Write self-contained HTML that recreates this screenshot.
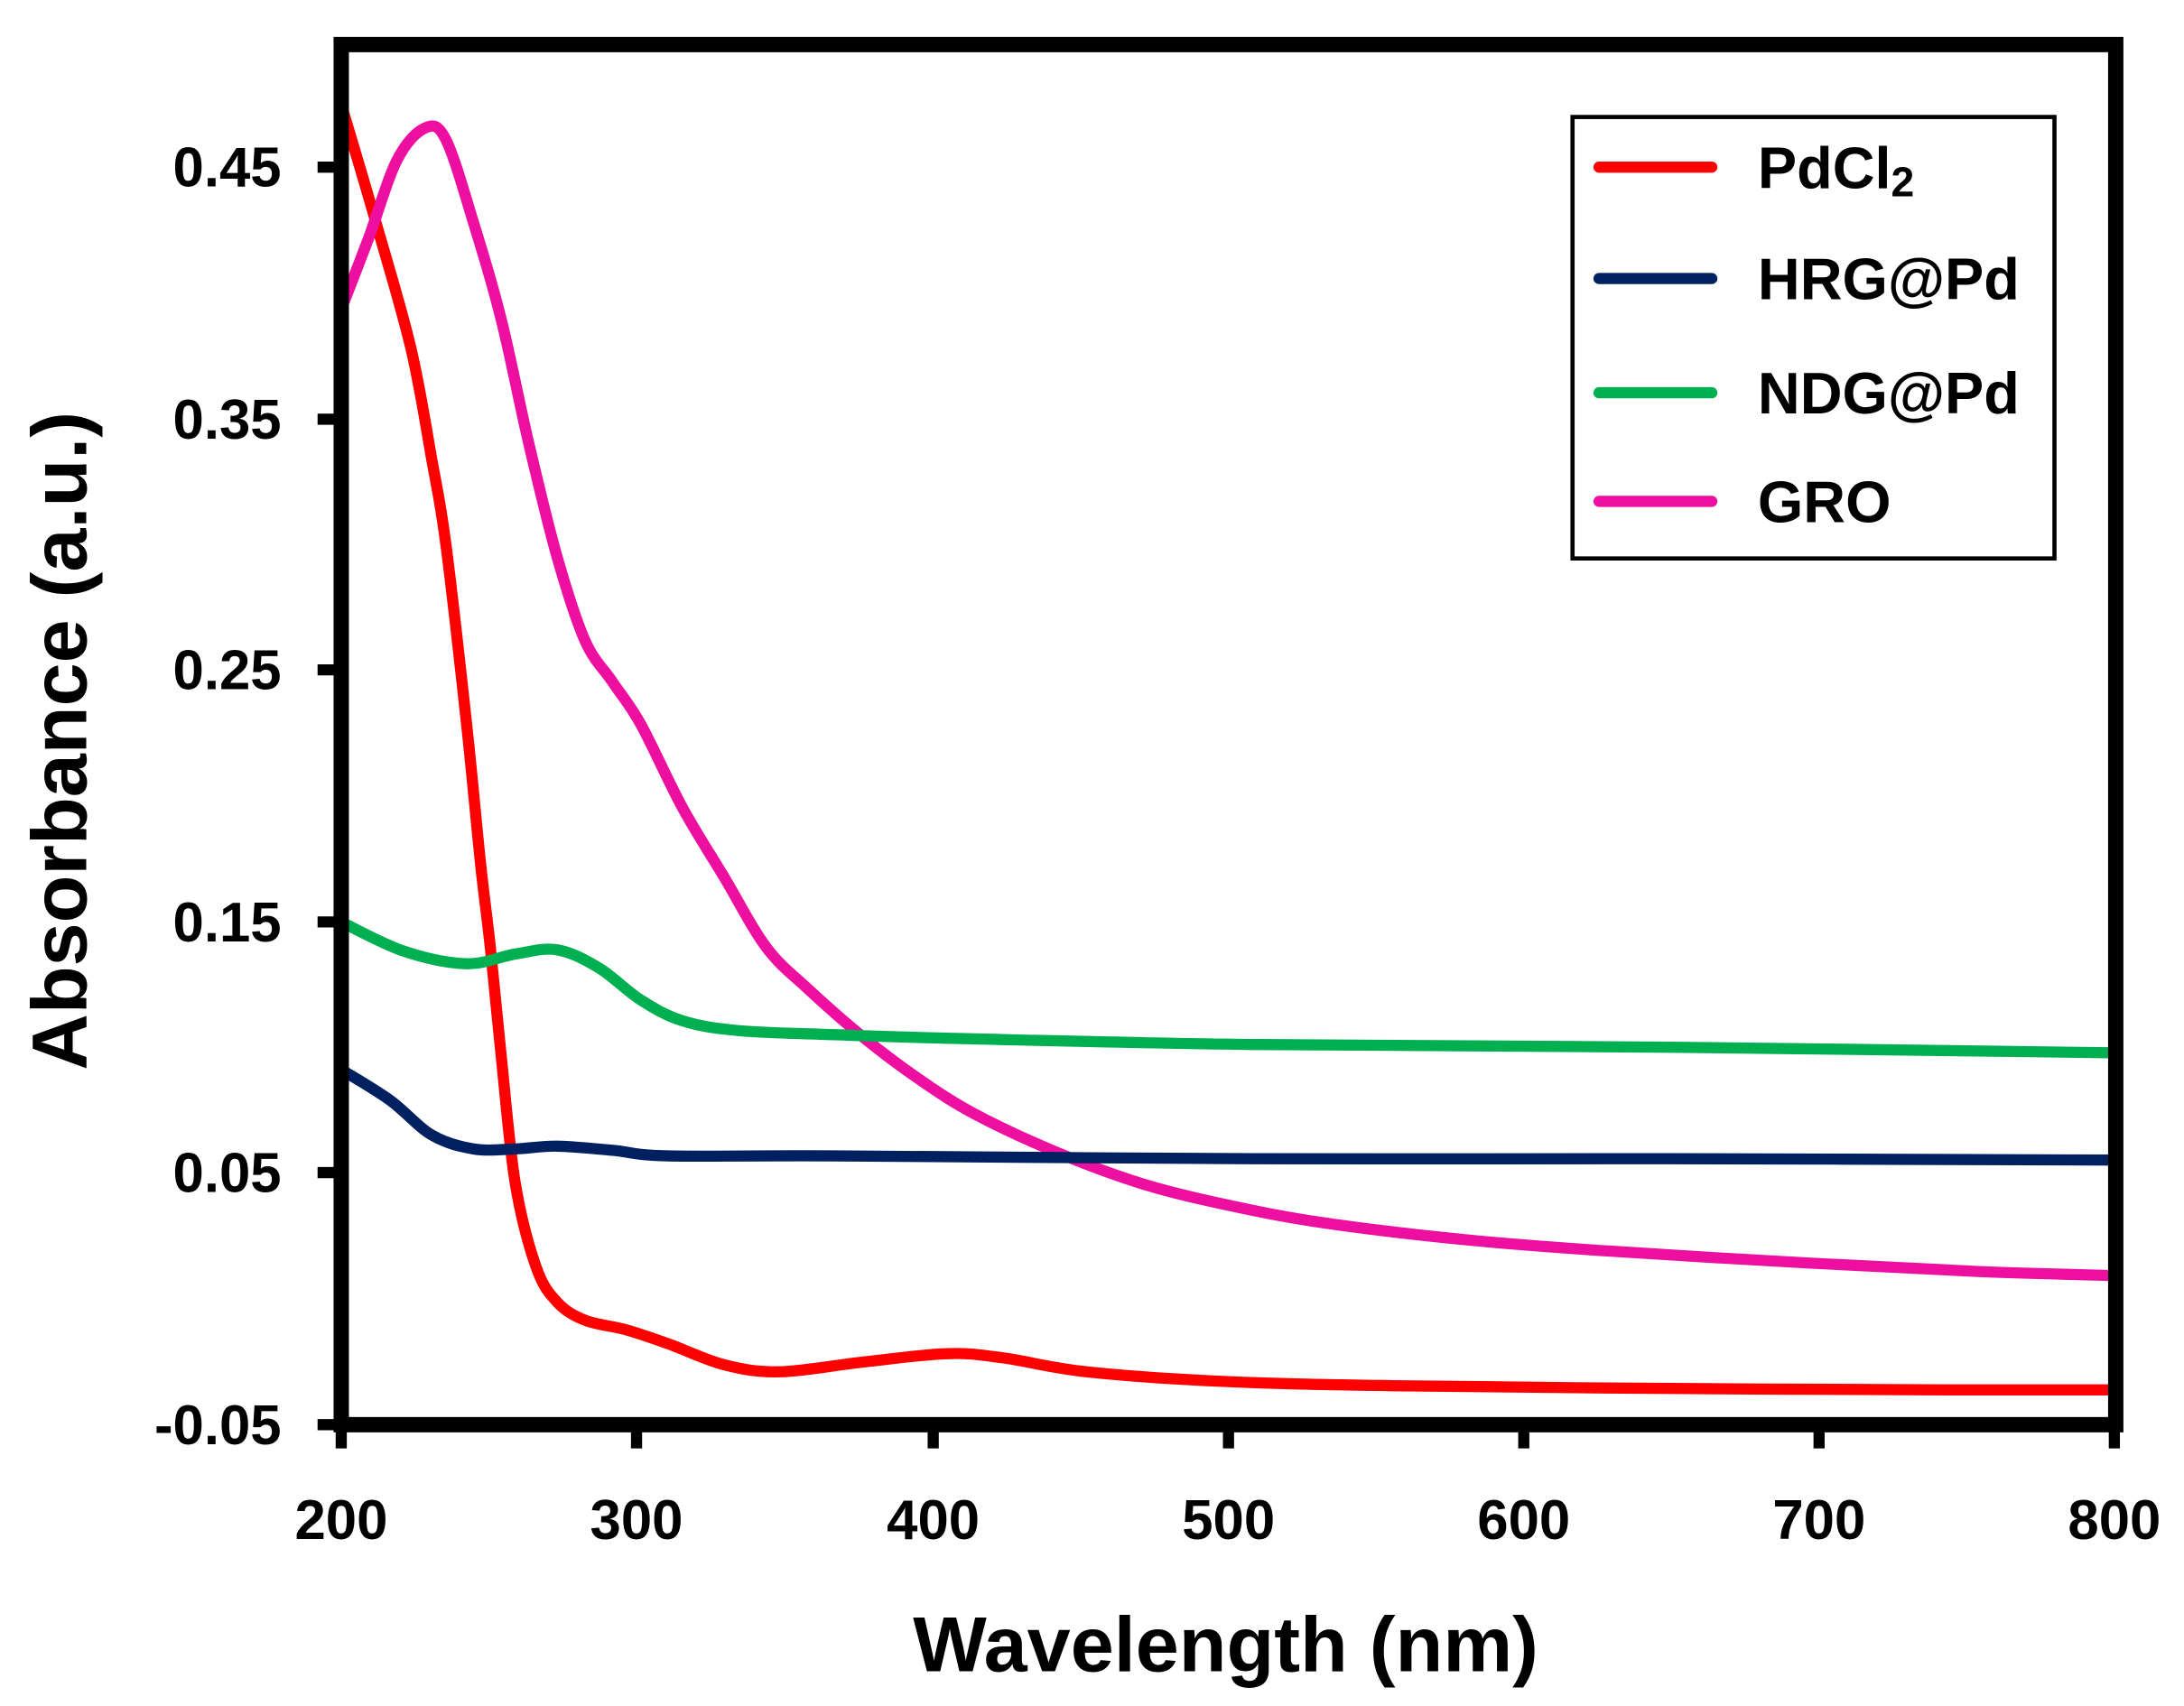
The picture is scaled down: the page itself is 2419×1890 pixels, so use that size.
<!DOCTYPE html>
<html><head><meta charset="utf-8"><style>html,body{margin:0;padding:0;background:#fff}svg{display:block}</style></head>
<body>
<svg id="s" width="2419" height="1890" viewBox="0 0 1568 1225" preserveAspectRatio="none" xmlns="http://www.w3.org/2000/svg" font-family="Liberation Sans, sans-serif" font-weight="bold">
<rect width="1568" height="1225" fill="#fff"/>
<g fill="none" stroke-linejoin="round" stroke-linecap="round" stroke-width="8">
<polyline class="c" stroke="#ff0000" points="245,75 270,160 295,250 310,330 320,390 335,520 345,620 352,680 360,760 370,850 385,910 400,935 420,948 450,955 480,965 520,980 560,985 620,978 680,972 720,975 780,985 880,992 1000,995 1200,997 1400,998 1520,998"/>
<polyline class="c" stroke="#ec0fa0" points="245,222 265,170 285,115 305,92 320,100 340,160 360,230 380,320 400,400 420,460 440,490 460,520 490,580 520,630 550,680 580,710 620,745 660,775 700,800 760,828 820,850 880,865 950,878 1050,890 1150,898 1300,907 1420,913 1520,916"/>
<polyline class="c" stroke="#00b050" points="245,662 290,683 335,692 370,685 400,682 430,695 460,718 490,733 530,740 600,743 700,746 900,750 1200,752 1520,756"/>
<polyline class="c" stroke="#002060" points="245,768 280,790 310,815 340,825 370,825 400,823 440,826 480,830 600,830 900,832 1200,832 1520,833"/>
</g>
<rect x="245" y="32" width="1274" height="991" fill="none" stroke="#000" stroke-width="11"/>
<g stroke="#000" stroke-width="8">
<line x1="228" y1="120" x2="245" y2="120"/><line x1="228" y1="301" x2="245" y2="301"/><line x1="228" y1="481" x2="245" y2="481"/><line x1="228" y1="662" x2="245" y2="662"/><line x1="228" y1="842" x2="245" y2="842"/><line x1="228" y1="1023" x2="245" y2="1023"/>
<line x1="245" y1="1023" x2="245" y2="1040"/><line x1="457" y1="1023" x2="457" y2="1040"/><line x1="670" y1="1023" x2="670" y2="1040"/><line x1="882" y1="1023" x2="882" y2="1040"/><line x1="1094" y1="1023" x2="1094" y2="1040"/><line x1="1306" y1="1023" x2="1306" y2="1040"/><line x1="1518" y1="1023" x2="1518" y2="1040"/>
</g>
<g font-size="40" text-anchor="end" fill="#000">
<text x="202" y="134">0.45</text><text x="202" y="315">0.35</text><text x="202" y="495">0.25</text><text x="202" y="676">0.15</text><text x="202" y="856">0.05</text><text x="202" y="1037">-0.05</text>
</g>
<g font-size="40" text-anchor="middle" fill="#000">
<text x="245" y="1105">200</text><text x="457" y="1105">300</text><text x="670" y="1105">400</text><text x="882" y="1105">500</text><text x="1094" y="1105">600</text><text x="1306" y="1105">700</text><text x="1518" y="1105">800</text>
</g>
<text x="880" y="1200" font-size="56" text-anchor="middle">Wavelength (nm)</text>
<text transform="translate(62,532) rotate(-90)" font-size="56" text-anchor="middle">Absorbance (a.u.)</text>
<rect x="1129" y="84" width="346" height="317" fill="#fff" stroke="#000" stroke-width="3"/>
<g stroke-width="8" stroke-linecap="round">
<line x1="1148" y1="120" x2="1229" y2="120" stroke="#ff0000"/>
<line x1="1148" y1="200" x2="1229" y2="200" stroke="#002060"/>
<line x1="1148" y1="282" x2="1229" y2="282" stroke="#00b050"/>
<line x1="1148" y1="360" x2="1229" y2="360" stroke="#ec0fa0"/>
</g>
<g font-size="42" fill="#000">
<text x="1262" y="135">PdCl<tspan font-size="30" dy="6">2</tspan></text>
<text x="1262" y="215">HRG@Pd</text>
<text x="1262" y="297">NDG@Pd</text>
<text x="1262" y="375">GRO</text>
</g>
</svg>
<script>
document.querySelectorAll('polyline.c').forEach(function(pl){
var p=pl.getAttribute('points').trim().split(/\s+/).map(function(s){return s.split(',').map(Number)});
var d='M'+p[0][0]+','+p[0][1];
for(var i=0;i<p.length-1;i++){var p0=p[i>0?i-1:i],p1=p[i],p2=p[i+1],p3=p[i+2<p.length?i+2:i+1];
var c1x=p1[0]+(p2[0]-p0[0])/6,c1y=p1[1]+(p2[1]-p0[1])/6,c2x=p2[0]-(p3[0]-p1[0])/6,c2y=p2[1]-(p3[1]-p1[1])/6;
d+=' C'+c1x+','+c1y+' '+c2x+','+c2y+' '+p2[0]+','+p2[1];}
var path=document.createElementNS('http://www.w3.org/2000/svg','path');
path.setAttribute('d',d);path.setAttribute('stroke',pl.getAttribute('stroke'));
pl.parentNode.replaceChild(path,pl);});
</script>
</body></html>
